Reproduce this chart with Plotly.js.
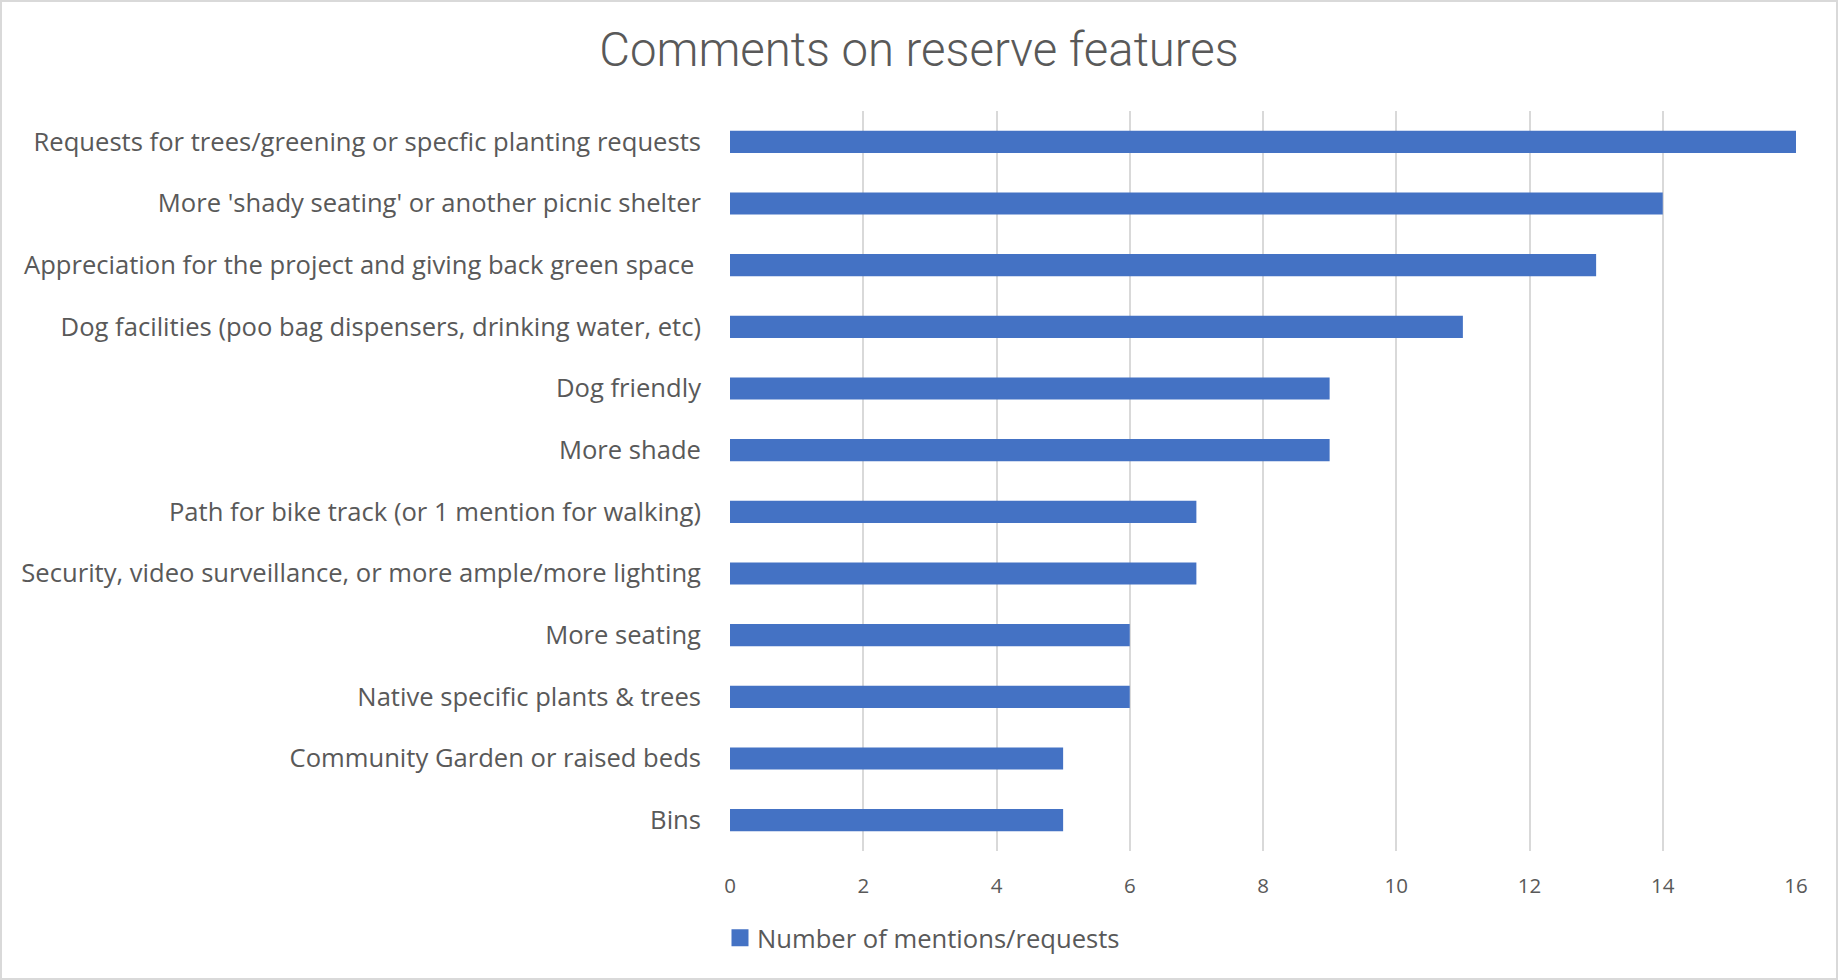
<!DOCTYPE html>
<html>
<head>
<meta charset="utf-8">
<script src="https://cdn.plot.ly/plotly-3.0.1.min.js"></script>
<style>
  html, body { margin: 0; padding: 0; background: #ffffff; }
  #wrap { position: relative; width: 1838px; height: 980px; }
  #chart { width: 1838px; height: 980px; }
  #frame { position: absolute; left: 0; top: 0; width: 1838px; height: 980px; box-sizing: border-box;
           border: 2px solid #D9D9D9; pointer-events: none; }
</style>
</head>
<body>
<div id="wrap">
  <div id="chart"></div>
  <div id="frame"></div>
</div>
<script>
// Data (listed bottom to top, as drawn on the category axis)
const categories = [
  "Bins",
  "Community Garden or raised beds",
  "Native specific plants & trees",
  "More seating",
  "Security, video surveillance, or more ample/more lighting",
  "Path for bike track (or 1 mention for walking)",
  "More shade",
  "Dog friendly",
  "Dog facilities (poo bag dispensers, drinking water, etc)",
  "Appreciation for the project and giving back green space\u00a0",
  "More 'shady seating' or another picnic shelter",
  "Requests for trees/greening or specfic planting requests"
];
const mentions = [5, 5, 6, 6, 7, 7, 9, 9, 11, 13, 14, 16];
const xTickValues = [0, 2, 4, 6, 8, 10, 12, 14, 16];
const seriesName = "Number of mentions/requests";
const chartTitle = "Comments on reserve features";

const textColor = "#595959";
const gridColor = "#D9D9D9";
const barColor = "#4472C4";

const trace = {
  type: "bar",
  orientation: "h",
  y: categories,
  x: mentions,
  name: seriesName,
  marker: { color: barColor },
  hoverinfo: "x+y"
};

const layout = {
  width: 1838,
  height: 980,
  paper_bgcolor: "#ffffff",
  plot_bgcolor: "#ffffff",
  margin: { l: 730, r: 42, t: 111, b: 129, pad: 0 },
  title: {
    text: chartTitle,
    font: { family: "Roboto, Lato, 'DejaVu Sans', sans-serif", size: 47.3, color: textColor, weight: 300 },
    x: 0.5, xanchor: "center",
    y: 1 - 49 / 980, yanchor: "middle", yref: "container"
  },
  bargap: 0.64,
  showlegend: true,
  legend: {
    orientation: "h",
    x: -0.0122, xanchor: "left",
    y: -0.1176, yanchor: "middle",
    font: { family: "'Open Sans', sans-serif", size: 25.6, color: textColor },
    bgcolor: "rgba(0,0,0,0)"
  },
  xaxis: {
    range: [0, 16],
    tickvals: xTickValues,
    ticktext: xTickValues.map(String),
    showgrid: true,
    gridcolor: gridColor,
    gridwidth: 1.5,
    zeroline: false,
    showline: false,
    ticks: "",
    ticklabelstandoff: 20,
    tickfont: { family: "'Open Sans', sans-serif", size: 20.5, color: textColor },
    fixedrange: true
  },
  yaxis: {
    type: "category",
    categoryorder: "array",
    categoryarray: categories,
    showgrid: false,
    zeroline: false,
    showline: false,
    ticks: "",
    ticklabelstandoff: 28,
    tickfont: { family: "'Open Sans', sans-serif", size: 25.6, color: textColor },
    automargin: false,
    fixedrange: true
  }
};

Plotly.newPlot("chart", [trace], layout, { displayModeBar: false, responsive: false }).then(function (gd) {
  // Enlarge the legend swatch to match the reference's bigger square
  gd.querySelectorAll(".legend .legendpoints path").forEach(function (p) {
    p.setAttribute("d", "M11.5,8.5H-5.5V-8.5H11.5Z");
  });
});
</script>
</body>
</html>
